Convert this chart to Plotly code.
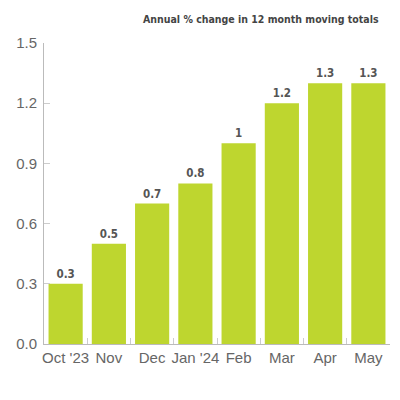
import plotly.graph_objects as go

months = ["Oct '23", "Nov", "Dec", "Jan '24", "Feb", "Mar", "Apr", "May"]
change = [0.3, 0.5, 0.7, 0.8, 1.0, 1.2, 1.3, 1.3]
bar_labels = ["0.3", "0.5", "0.7", "0.8", "1", "1.2", "1.3", "1.3"]
y_ticks = [0.0, 0.3, 0.6, 0.9, 1.2, 1.5]

narrow = "Liberation Sans Narrow, DejaVu Sans Condensed, Roboto"
tick_font = dict(family="Liberation Sans, Arial, sans-serif", size=15, color="#666666")

fig = go.Figure(
    go.Bar(
        x=months,
        y=change,
        text=bar_labels,
        textposition="outside",
        cliponaxis=False,
        textfont=dict(family=narrow, size=11.5, color="#555555", weight="bold"),
        marker=dict(color="#BED62F", line=dict(width=0)),
    )
)

fig.update_layout(
    width=400,
    height=400,
    margin=dict(l=36, r=18, t=35, b=64),
    plot_bgcolor="white",
    paper_bgcolor="white",
    bargap=0.21,
    showlegend=False,
    font=dict(family="Liberation Sans, Arial, sans-serif", color="#666666"),
    annotations=[
        dict(
            text="Annual % change in 12 month moving totals",
            xref="paper", yref="paper", x=0.975, y=1.0,
            yshift=24, xanchor="right", yanchor="middle", showarrow=False,
            font=dict(family=narrow, size=10.5, color="#444444", weight="bold"),
        )
    ],
)

fig.update_xaxes(
    showline=True, linecolor="#bbbbbb", linewidth=1,
    ticks="inside", tickson="boundaries", ticklen=6, tickcolor="#cccccc",
    tickfont=tick_font, tickangle=0, automargin=False,
    showgrid=False,
)
fig.update_yaxes(
    range=[0, 1.5],
    tickvals=y_ticks, ticktext=[f"{v:.1f}" for v in y_ticks],
    showline=True, linecolor="#bbbbbb", linewidth=1,
    ticks="inside", ticklen=6, tickcolor="#cccccc",
    tickfont=tick_font, automargin=False, ticklabelstandoff=3,
    showgrid=False, zeroline=False,
)

fig.write_html("out.html")
